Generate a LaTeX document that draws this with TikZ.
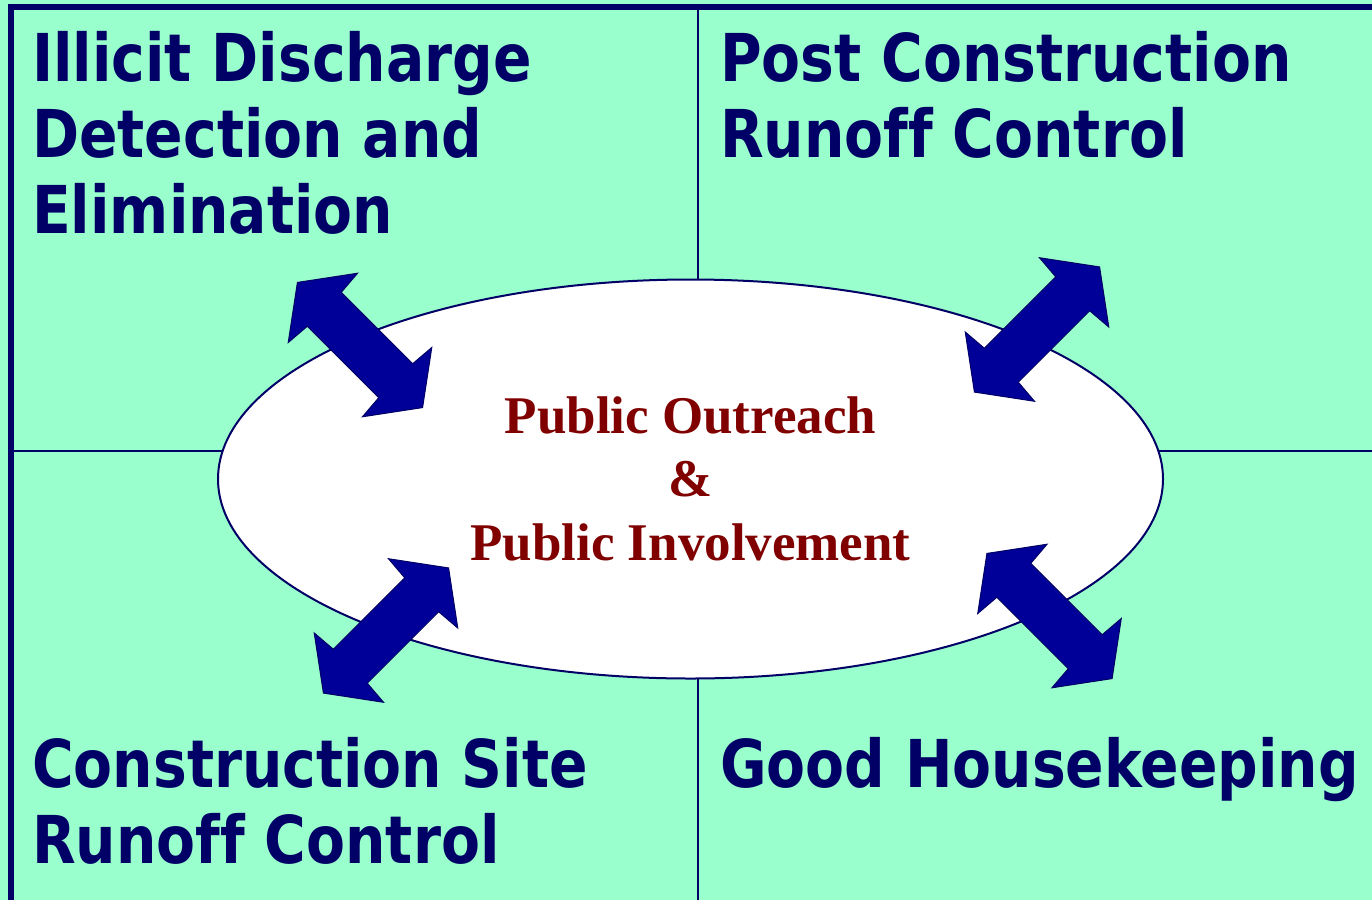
\documentclass[tikz,border=0pt]{standalone}
\usepackage{fontspec}
\usetikzlibrary{shapes.geometric}
\newfontfamily\titlefont{DejaVu Sans}[FakeStretch=0.86, Ligatures=NoCommon]
\newfontfamily\hubfont{Liberation Serif}
\definecolor{mint}{HTML}{99FFCC}
\definecolor{navytext}{HTML}{000066}
\definecolor{navyline}{HTML}{000066}
\definecolor{arrowfill}{HTML}{000099}
\definecolor{hubred}{HTML}{800000}
\tikzset{
  divider/.style={draw=navyline, line width=2pt},
  frameline/.style={draw=navyline, line width=6pt},
  title/.style={anchor=base west, align=left, inner sep=0pt, text=navytext,
    font=\titlefont\bfseries\fontsize{66}{76}\selectfont},
  hub/.style={ellipse, draw=navyline, line width=2pt, fill=white,
    minimum width=945pt, minimum height=399pt, inner sep=0pt},
  hubtext/.style={align=center, inner sep=0pt, text=hubred,
    font=\hubfont\bfseries\fontsize{53}{63.5}\selectfont},
  dblarrow/.pic={
    \fill[arrowfill, draw=navyline, line width=1pt]
      (-88.5,0) -- (-52.5,49) -- (-50.5,24) -- (50.5,24) -- (52.5,49) -- (88.5,0)
      -- (52.5,-49) -- (50.5,-24) -- (-50.5,-24) -- (-52.5,-49) -- cycle;
  }
}
\begin{document}
\begin{tikzpicture}[x=1pt, y=-1pt]
\useasboundingbox (0,0) rectangle (1372,900);
\fill[mint] (0,0) rectangle (1372,900);
% dividers
\draw[divider] (14,451) -- (1372,451);
\draw[divider] (698,10) -- (698,900);
% frame
\draw[frameline] (8,7) -- (1372,7);
\draw[frameline] (11,4) -- (11,900);
% central ellipse
\node[hub] (hub) at (690.5,479) {};
\node[hubtext, anchor=base] (hubtxt) at (690.5,560) {Public Outreach\\\&\\Public Involvement};
% arrows
\pic[rotate=-45] at (360,345) {dblarrow};
\pic[rotate=45] at (1037,329.5) {dblarrow};
\pic[rotate=45] at (386,630.5) {dblarrow};
\pic[rotate=-45] at (1049.5,616) {dblarrow};
% titles (anchor = baseline of last line)
\node[title] (idde) at (32,233) {Illicit Discharge\\Detection and\\Elimination};
\node[title] (pcrc) at (720,157) {Post Construction\\Runoff Control};
\node[title] (csrc) at (32,863) {Construction Site\\Runoff Control};
\node[title] (gh) at (720,787) {Good Housekeeping};
\end{tikzpicture}
\end{document}
